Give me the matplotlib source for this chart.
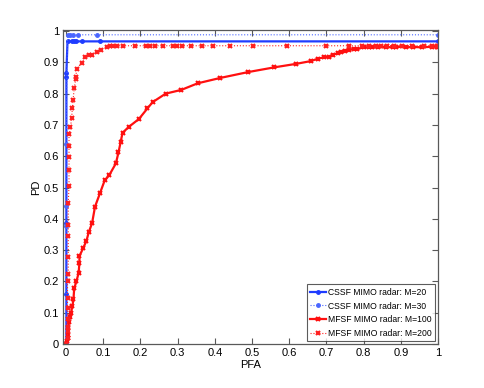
import matplotlib
matplotlib.use("Agg")
import matplotlib.pyplot as plt

plt.rcParams['font.family'] = ['Liberation Sans Narrow', 'Liberation Sans', 'DejaVu Sans']

# CSSF MIMO radar, M=20 (solid blue)
pfa_m20 = [0.001, 0.001, 0.001, 0.001, 0.001, 0.004, 0.015, 0.021, 0.028, 0.042, 0.091, 1.0]
pd_m20 = [0.0, 0.159, 0.388, 0.854, 0.867, 0.967, 0.967, 0.967, 0.967, 0.967, 0.967, 0.967]

# CSSF MIMO radar, M=30 (dotted blue)
pfa_m30 = [0.0, 0.0, 0.0, 0.0, 0.004, 0.012, 0.019, 0.033, 0.082, 1.0]
pd_m30 = [0.0, 0.378, 0.44, 0.64, 0.988, 0.988, 0.988, 0.988, 0.988, 0.988]

# MFSF MIMO radar, M=100 (solid red)
pfa_m100 = [0.0, 0.003, 0.004, 0.005, 0.006, 0.008, 0.010, 0.013,
            0.017, 0.020, 0.022, 0.028, 0.034, 0.036, 0.036,
            0.046, 0.055, 0.061, 0.070, 0.078,
            0.091, 0.104, 0.116, 0.134, 0.141, 0.147,
            0.152, 0.169, 0.196, 0.219, 0.233,
            0.268, 0.310, 0.354, 0.414, 0.490,
            0.560, 0.618, 0.658, 0.678, 0.694,
            0.708, 0.718, 0.732, 0.740, 0.750,
            0.761, 0.775, 0.783, 0.800, 0.815,
            0.824, 0.840, 0.860, 0.879, 0.886,
            0.913, 0.932, 0.958, 0.985, 0.997, 1.0]
pd_m100 = [0.0, 0.01, 0.02, 0.03, 0.05, 0.07, 0.085, 0.098,
           0.12, 0.143, 0.178, 0.20, 0.228, 0.26, 0.281,
           0.306, 0.33, 0.357, 0.386, 0.439,
           0.481, 0.523, 0.539, 0.577, 0.612, 0.646,
           0.675, 0.694, 0.719, 0.753, 0.773,
           0.80, 0.812, 0.833, 0.85, 0.869,
           0.884, 0.895, 0.904, 0.912, 0.916,
           0.918, 0.925, 0.929, 0.934, 0.937,
           0.941, 0.942, 0.942, 0.948, 0.948,
           0.948, 0.948, 0.949, 0.948, 0.95,
           0.948, 0.949, 0.948, 0.95, 0.95, 0.95]

# MFSF MIMO radar, M=200 (dotted red)
pfa_m200 = [0.0, 0.004, 0.004, 0.004, 0.004, 0.004, 0.004, 0.004,
            0.006, 0.006, 0.006, 0.006, 0.006,
            0.008, 0.008, 0.008, 0.008, 0.008,
            0.012, 0.015, 0.017, 0.019, 0.022, 0.026, 0.026, 0.029,
            0.043, 0.052, 0.061, 0.069, 0.082, 0.094, 0.109, 0.118,
            0.127, 0.137, 0.152, 0.185, 0.216, 0.225, 0.238, 0.261,
            0.287, 0.298, 0.313, 0.337, 0.365, 0.395, 0.44, 0.504,
            0.594, 0.70, 0.76, 0.795, 0.815, 0.833, 0.848, 0.864,
            0.882, 0.904, 0.929, 0.962, 0.985, 0.997, 1.0]
pd_m200 = [0.0, 0.02, 0.04, 0.055, 0.08, 0.114, 0.146, 0.2,
           0.224, 0.277, 0.346, 0.38, 0.449,
           0.505, 0.556, 0.596, 0.634, 0.671,
           0.692, 0.721, 0.753, 0.78, 0.817, 0.846, 0.852, 0.88,
           0.899, 0.916, 0.922, 0.925, 0.932, 0.941, 0.95, 0.953,
           0.953, 0.953, 0.953, 0.953, 0.953, 0.953, 0.953, 0.953,
           0.953, 0.953, 0.953, 0.953, 0.953, 0.953, 0.953, 0.953,
           0.953, 0.953, 0.953, 0.953, 0.953, 0.953, 0.953, 0.953,
           0.953, 0.953, 0.953, 0.953, 0.953, 0.953, 0.953]

ticks = [0, 0.1, 0.2, 0.3, 0.4, 0.5, 0.6, 0.7, 0.8, 0.9, 1]
tick_labels = ['0', '0.1', '0.2', '0.3', '0.4', '0.5', '0.6', '0.7', '0.8', '0.9', '1']

fig = plt.figure(figsize=(4.85, 3.88), dpi=100)
ax = fig.add_axes([0.130, 0.1134, 0.773, 0.809])

ax.plot(pfa_m20, pd_m20, '-', color='#1f3cff', lw=1.6, marker='.', ms=5,
        label='CSSF MIMO radar: M=20')
ax.plot(pfa_m30, pd_m30, ':', color='#4a66ff', lw=0.8, marker='.', ms=5,
        label='CSSF MIMO radar: M=30')
ax.plot(pfa_m100, pd_m100, '-', color='#ff1010', lw=1.6, marker='x', ms=3.5, mew=1.5,
        label='MFSF MIMO radar: M=100')
ax.plot(pfa_m200, pd_m200, ':', color='#ff2020', lw=0.8, marker='x', ms=3.5, mew=1.5,
        label='MFSF MIMO radar: M=200')

ax.set_xlim(-0.008, 1.0)
ax.set_ylim(0, 1.003)
ax.set_xticks(ticks)
ax.set_xticklabels(tick_labels)
ax.set_yticks(ticks)
ax.set_yticklabels(tick_labels)
ax.tick_params(direction='in', top=True, right=True, length=4, width=0.8,
               color='0.35', labelsize=8, pad=3)
for sp in ax.spines.values():
    sp.set_color('0.35')
    sp.set_linewidth(0.9)

ax.set_xlabel('PFA', fontsize=8, labelpad=1)
ax.set_ylabel('PD', fontsize=8, labelpad=2)

leg = ax.legend(loc='lower right', fontsize=6.2, frameon=True, fancybox=False,
                borderaxespad=0.3, handlelength=1.9, handletextpad=0.2,
                labelspacing=0.55, borderpad=0.4)
leg.get_frame().set_edgecolor('0.2')
leg.get_frame().set_linewidth(0.8)

fig.savefig('out.png', dpi=100)
